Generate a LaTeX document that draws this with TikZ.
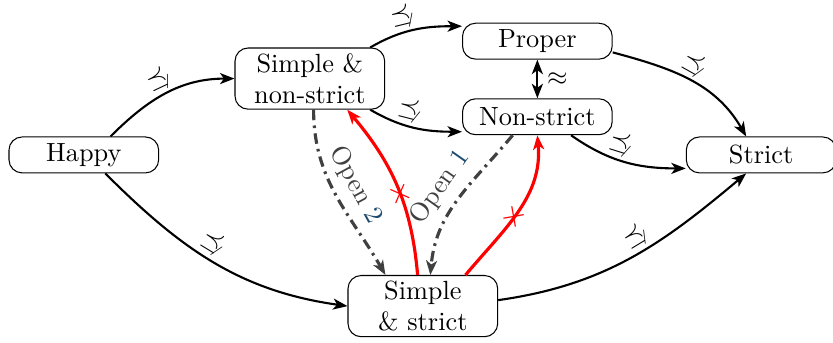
\documentclass[tikz,border=0pt]{standalone}
\usepackage{amssymb}
\usetikzlibrary{arrows.meta}
\definecolor{openblue}{RGB}{30,75,110}
\newcommand{\notpre}{\mathrel{\preceq\mkern-9.5mu\raisebox{-1.4pt}{$\scriptscriptstyle/$}\mkern5mu}}
\tikzset{
  >={Stealth[length=5.5pt, width=4.2pt, inset=1.5pt]},
  state/.style={draw, rounded corners=5pt, minimum width=2cm, minimum height=0.48cm, align=center, inner sep=2pt},
  refine/.style={->, thick},
  open/.style={->, very thick, dash pattern=on 4pt off 2pt on 1pt off 2pt, black!75},
  fail/.style={->, very thick, red},
  nref/.style={sloped, above, inner sep=1pt},
  cross/.style={sloped, red, inner sep=0pt, font=\large}
}
\begin{document}
\begin{tikzpicture}
        \useasboundingbox (-1.12, -2.51) rectangle (10.01, 2.07);
        \node[state] (happy) at (0, 0) {Happy};
        \node[state] (sns) at (3.02, 1.02) {Simple \&\\non-strict};
        \node[state] (proper) at (6.06, 1.52) {Proper};
        \node[state] (nonstrict) at (6.06, 0.51) {Non-strict};
        \node[state] (strict) at (9.05, 0) {Strict};
        \node[state] (ss) at (4.53, -2.02) {Simple\\\& strict};

        \draw[refine] (happy.north east) ++(-0.65, 0) to[out=45, in=180] node[nref, pos=0.52] {$\notpre$} (sns.west);
        \draw[refine] (happy.south east) ++(-0.72, 0) to[out=-45, in=172] node[nref, pos=0.47] {$\notpre$} (ss.west);
        \draw[refine] (sns.north east) ++(-0.2, 0) to[out=30, in=180] node[nref, pos=0.45] {$\notpre$} ([yshift=0.2cm] proper.west);
        \draw[refine] (sns.south east) ++(-0.2, 0) to[out=-30, in=180] node[nref, pos=0.45] {$\notpre$} ([yshift=-0.2cm] nonstrict.west);
        \draw[refine] ([yshift=-0.15cm] proper.east) to[out=-15, in=120] node[nref, pos=0.5] {$\notpre$} ([xshift=-0.2cm] strict.north);
        \draw[refine] (nonstrict.south) ++(0.45, 0) to[out=-35, in=180] node[nref, pos=0.45] {$\notpre$} ([yshift=-0.18cm] strict.west);
        \draw[refine] ([yshift=0.08cm] ss.east) to[out=8, in=-140] node[nref, pos=0.57] {$\notpre$} ([xshift=-0.2cm] strict.south);
        \draw[<->, thick] (proper) -- node[right] {$\approx$} (nonstrict);

        \draw[open] (sns.south) ++(0.05, 0) to[out=-90, in=120] node[sloped, above, pos=0.5] {Open \textcolor{openblue}{2}} ([xshift=-0.5cm] ss.north);
        \draw[open] (nonstrict.south) ++(-0.33, 0) to[out=-130, in=85] node[sloped, above, pos=0.5] {Open \textcolor{openblue}{1}} ([xshift=0.1cm] ss.north);
        \draw[fail] (ss.north) ++(-0.07, 0) to[out=95, in=-50] node[cross, pos=0.45] {$\times$} ([xshift=0.5cm] sns.south);
        \draw[fail] (ss.north) ++(0.57, 0) to[out=50, in=-85] node[cross, pos=0.45] {$\times$} (nonstrict.south);
      \end{tikzpicture}
\end{document}
